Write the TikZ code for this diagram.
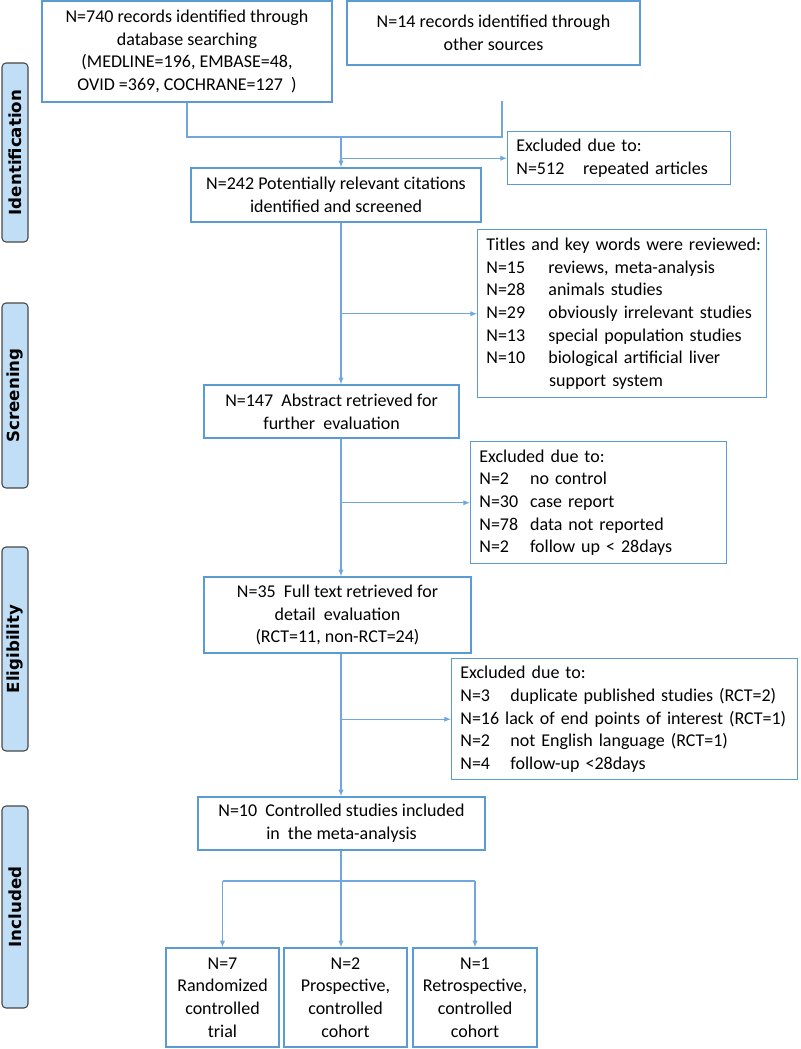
\documentclass[tikz,border=0pt]{standalone}
\usepackage{fontspec}
\setmainfont{Carlito}
\newfontfamily\stagefont{DejaVu Sans}
\usetikzlibrary{arrows.meta}
\definecolor{boxblue}{RGB}{91,155,213}
\definecolor{lineblue}{RGB}{112,168,222}
\definecolor{stagefill}{RGB}{192,223,246}
\definecolor{stageedge}{RGB}{72,72,72}
\newcommand{\ncol}[2]{\makebox[#1][l]{#2}}

\begin{document}
\begin{tikzpicture}[x=0.75pt, y=-0.75pt,
		every node/.style={font=\fontsize{13.5}{17}\selectfont},
		box/.style={draw=boxblue, line width=1.1pt, align=center, inner sep=0pt},
		listbox/.style={draw=boxblue, line width=1.1pt, align=left, inner xsep=6.5pt, inner ysep=0pt, anchor=north west},
		stage/.style={draw=stageedge, fill=stagefill, rounded corners=3pt, line width=0.8pt, rotate=90, minimum height=19.5pt, inner sep=0pt, font=\stagefont\bfseries\fontsize{12.5}{15}\selectfont},
		link/.style={draw=lineblue, line width=0.8pt},
		arr/.style={link, -{Latex[length=5pt,width=4pt]}}]
		\useasboundingbox (0,0) rectangle (800,1049);
		% stage labels on the left
		\foreach \name/\y/\len/\txt in {ident/152.5/134.25/Identification, screen/395.5/138.75/Screening, elig/649/153/Eligibility, incl/907/151.5/Included}
		{
			\node[stage, minimum width=\len pt] (\name) at (15,\y) {\txt};
		}
		% identification
		\node[box, minimum width=217.5pt, minimum height=75.75pt] (records) at (187,51.5) {N=740 records identified through\\ database searching\\ (MEDLINE=196, EMBASE=48,\\ OVID =369, COCHRANE=127\ \ )};
		\node[box, minimum width=219.75pt, minimum height=48pt] (other) at (493.5,33) {N=14 records identified through\\ other sources};
		\node[listbox, text width=154.25pt, minimum height=39.75pt] (dupl) at (507,131) {Excluded due to:\\ \ncol{50pt}{N=512}repeated articles};
		\node[box, minimum width=217.5pt, minimum height=40.5pt] (screened) at (336,195) {N=242 Potentially relevant citations\\ identified and screened};
		% screening
		\node[listbox, text width=203.75pt, minimum height=126pt] (review) at (477,229) {\mbox{Titles and key words were reviewed:}\\ \ncol{46.5pt}{N=15}reviews, meta-analysis\\ \ncol{46.5pt}{N=28}animals studies\\ \ncol{46.5pt}{N=29}obviously irrelevant studies\\ \ncol{46.5pt}{N=13}special population studies\\ \ncol{46.5pt}{N=10}biological artificial liver\\ \hspace*{47pt}support system};
		\node[box, minimum width=191.25pt, minimum height=39.75pt] (abstract) at (331.5,411.5) {N=147\ \ Abstract retrieved for\\ further\ \ evaluation};
		\node[listbox, text width=179pt, minimum height=91.5pt] (absex) at (470,441) {Excluded due to:\\ \ncol{38pt}{N=2}no control\\ \ncol{38pt}{N=30}case report\\ \ncol{38pt}{N=78}data not reported\\ \ncol{38pt}{N=2}follow up < 28days};
		% eligibility
		\node[box, minimum width=200.25pt, minimum height=57pt] (fulltext) at (337.5,615) {N=35\ \ Full text retrieved for\\ detail\ \ evaluation\\ (RCT=11, non-RCT=24)};
		\node[listbox, text width=246.5pt, minimum height=90.75pt] (fullex) at (451,658) {Excluded due to:\\ \ncol{37.5pt}{N=3}duplicate published studies (RCT=2)\\ \mbox{N=16 lack of end points of interest (RCT=1)}\\ \ncol{37.5pt}{N=2}not English language (RCT=1)\\ \ncol{37.5pt}{N=4}follow-up <28days};
		% included
		\node[box, minimum width=215.25pt, minimum height=39.75pt] (included) at (341.5,823.5) {N=10\ \ Controlled studies included\\ in\ \ the meta-analysis};
		\node[box, minimum width=84.75pt, minimum height=74.25pt] (rct) at (222.5,997.5) {N=7\\ Randomized\\ controlled\\ trial};
		\node[box, minimum width=92.25pt, minimum height=74.25pt] (prosp) at (345.5,997.5) {N=2\\ Prospective,\\ controlled\\ cohort};
		\node[box, minimum width=93pt, minimum height=74.25pt] (retro) at (475,997.5) {N=1\\ Retrospective,\\ controlled\\ cohort};
		% main line and branches
		\coordinate (trunk) at (341,0);
		\coordinate (join) at (341,137);
		\coordinate (gap) at (502,101);
		\coordinate (split) at (341,881);
		\draw[link] (records.south) |- (join) -| (gap);
		\draw[arr] (join) -- (join |- screened.north);
		\draw[arr] (trunk |- dupl.west) -- (dupl.west);
		\draw[arr] (screened.south -| trunk) -- (abstract.north -| trunk);
		\draw[arr] (trunk |- review.west) -- (review.west);
		\draw[arr] (abstract.south -| trunk) -- (fulltext.north -| trunk);
		\draw[arr] (trunk |- absex.west) -- (absex.west);
		\draw[arr] (fulltext.south -| trunk) -- (included.north -| trunk);
		\draw[arr] (trunk |- fullex.west) -- (fullex.west);
		% split into study types
		\draw[link] (included.south -| trunk) -- (split);
		\draw[link] (rct.north |- split) -- (retro.north |- split);
		\draw[arr] (rct.north |- split) -- (rct.north);
		\draw[arr] (split) -- (prosp.north -| split);
		\draw[arr] (retro.north |- split) -- (retro.north);
	\end{tikzpicture}
\end{document}
